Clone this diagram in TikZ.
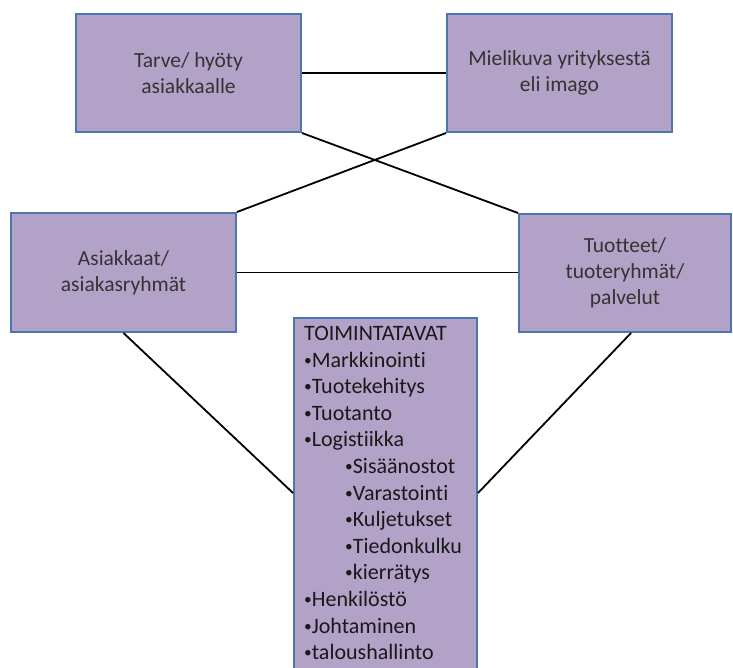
\documentclass[tikz,border=0pt]{standalone}
\usepackage{fontspec}
\setmainfont{Carlito}[Ligatures=NoCommon]
\usetikzlibrary{calc}
\definecolor{boxfill}{HTML}{B3A2C7}
\definecolor{boxedge}{HTML}{4A78AE}
\definecolor{boxtext}{HTML}{333333}
\newcommand{\dotmark}{\raisebox{2pt}{\scalebox{0.7}{•}}}
\newcommand{\subdot}{\hspace*{41pt}\dotmark}
\tikzset{
  box/.style={draw=boxedge, line width=2pt, fill=boxfill, rectangle,
    inner sep=0pt, align=center, text=boxtext,
    font=\fontsize{21.5}{26}\selectfont},
  link/.style={draw=black, line width=1.8pt}
}
\begin{document}
\begin{tikzpicture}[x=1pt, y=-1pt]
  \clip (0,0) rectangle (733,668);
  \fill[white] (0,0) rectangle (733,668);

  % four concept boxes
  \node[box, minimum width=225pt, minimum height=118pt] (need) at (188.5,73)
    {Tarve/ hyöty\\asiakkaalle};
  \node[box, minimum width=225pt, minimum height=118pt] (image) at (559.5,73)
    {Mielikuva yrityksestä\\eli imago};
  \node[box, minimum width=225pt, minimum height=119pt] (cust) at (123.5,272.5)
    {Asiakkaat/\\asiakasryhmät};
  \node[box, minimum width=212pt, minimum height=118pt] (prod) at (625,273)
    {Tuotteet/\\tuoteryhmät/\\palvelut};

  % operations box, running past the lower edge
  \node[draw=boxedge, line width=2pt, fill=boxfill, rectangle, inner sep=0pt,
        anchor=north west, minimum width=183pt, minimum height=370pt]
        (ops) at (293,317) {};
  \node[anchor=north west, inner sep=0pt, align=left, text=black!90,
        font=\fontsize{22}{26.6}\selectfont] (opslist) at (304,326)
    {TOIMINTATAVAT\\
     \dotmark Markkinointi\\
     \dotmark Tuotekehitys\\
     \dotmark Tuotanto\\
     \dotmark Logistiikka\\
     \subdot Sisäänostot\\
     \subdot Varastointi\\
     \subdot Kuljetukset\\
     \subdot Tiedonkulku\\
     \subdot kierrätys\\
     \dotmark Henkilöstö\\
     \dotmark Johtaminen\\
     \dotmark taloushallinto};

  \coordinate (opsL) at ($(ops.north west)+(0,176)$);
  \coordinate (opsR) at ($(ops.north east)+(0,176)$);
  \coordinate (prodS) at ($(prod.south)+(6,0)$);

  % connectors
  \draw[link] (need.east) -- (image.west);
  \draw[link] (need.south east) -- (prod.north west);
  \draw[link] (image.south west) -- (cust.north east);
  \draw[link] (cust.east) -- (cust.east -| prod.west);
  \draw[link] (cust.south) -- (opsL);
  \draw[link] (prodS) -- (opsR);
\end{tikzpicture}
\end{document}
